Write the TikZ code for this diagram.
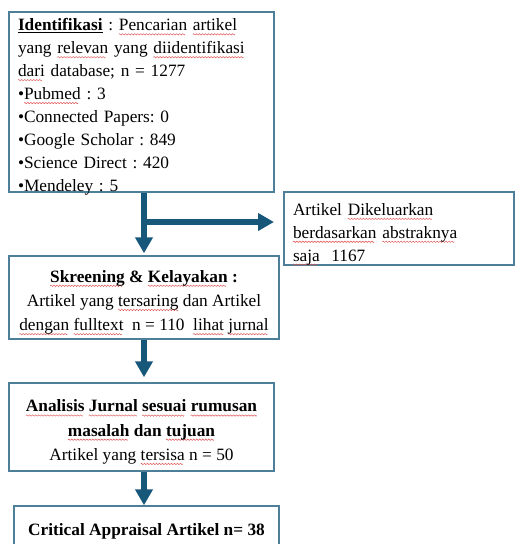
\documentclass[tikz,border=0pt]{standalone}
\usepackage{fontspec}
\setmainfont{Liberation Serif}
\usetikzlibrary{arrows.meta}
\definecolor{bord}{HTML}{4E7F98}
\definecolor{arrc}{HTML}{17587A}
\definecolor{sqred}{HTML}{E05050}
\frenchspacing
\newsavebox\sqbox
\newcommand\wavepiece{\tikz[baseline=0pt]{\useasboundingbox (0pt,0pt) rectangle (3pt,0pt);
  \draw[sqred, line width=0.45pt] (0pt,0pt) sin (0.75pt,0.7pt) cos (1.5pt,0pt) sin (2.25pt,-0.7pt) cos (3pt,0pt);}}
\newcommand\sqw[1]{\leavevmode\sbox\sqbox{#1}\rlap{\raisebox{-3.6pt}{\hbox to \wd\sqbox{\leaders\hbox{\wavepiece}\hfill}}}\usebox\sqbox}
\newcommand\topfix[1]{\leavevmode\rule{0pt}{#1}}
\begin{document}
\begin{tikzpicture}[x=1pt,y=-1pt,
  box/.style={draw=bord, line width=1.4pt, rectangle, inner ysep=0pt, fill=white},
  lbox/.style={box, align=left, inner xsep=9pt},
  cbox/.style={box, align=center, inner xsep=0pt},
  arr/.style={draw=arrc, line width=5.5pt, -{Triangle[width=17pt,length=16pt]}},
  txtA/.style={font=\fontsize{17.3}{22.9}\selectfont},
  txtB/.style={font=\fontsize{17.3}{24.2}\selectfont}]
\useasboundingbox (0,0) rectangle (515,544);
\begin{scope}
\clip (0,0) rectangle (515,544);
\node[lbox, txtA, text width=247pt, minimum height=180pt, inner ysep=-3pt] (box1) at (141.5,102)
  {\topfix{21.5pt}\textbf{\underline{Identifikasi}} : \sqw{Pencarian} \sqw{artikel}\\
   yang \sqw{relevan} yang \sqw{diidentifikasi}\\
   \sqw{dari} database; n = 1277\\
   •\sqw{Pubmed} : 3\\
   •Connected Papers: 0\\
   •Google Scholar : 849\\
   •Science Direct : 420\\
   •Mendeley : 5};
\node[lbox, txtA, text width=212pt, minimum height=73pt, inner ysep=-1pt] (box2) at (399,228.5)
  {\topfix{23pt}Artikel \sqw{Dikeluarkan}\\
   \sqw{berdasarkan} \sqw{abstraknya}\\
   \sqw{saja}\ \ 1167};
\node[cbox, txtB, minimum width=270pt, minimum height=83pt] (box3) at (144,297.5)
  {\topfix{21.5pt}\textbf{\sqw{Skreening} \& \sqw{Kelayakan} :}\\
   Artikel yang \sqw{tersaring} dan Artikel\\
   \sqw{dengan} \sqw{fulltext}\ \ n = 110\ \ \sqw{lihat} \sqw{jurnal}};
\node[cbox, txtB, minimum width=265pt, minimum height=88pt] (box4) at (141.5,427)
  {\topfix{22pt}\textbf{\sqw{Analisis} \sqw{Jurnal} \sqw{sesuai} \sqw{rumusan}}\\
   \textbf{\sqw{masalah} dan \sqw{tujuan}}\\
   Artikel yang \sqw{tersisa} n = 50};
\node[cbox, txtB, minimum width=265pt, minimum height=50pt] (box5) at (146.5,531)
  {\textbf{Critical Appraisal Artikel n= 38}};
\coordinate (ax) at (144,0);
\coordinate (brs) at (141,222);
\coordinate (bre) at (274,222);
\draw[arr, shorten >=2pt] (box1.south -| ax) -- (box3.north -| ax);
\draw[arr] (brs) -- (bre);
\draw[arr, shorten >=5pt] (box3.south -| ax) -- (box4.north -| ax);
\draw[arr] (box4.south -| ax) -- (box5.north -| ax);
\end{scope}
\end{tikzpicture}
\end{document}
